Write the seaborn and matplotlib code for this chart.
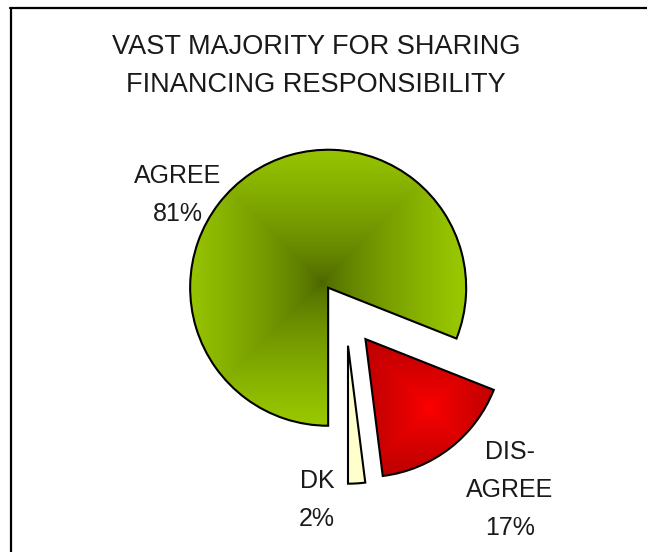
import numpy as np
import matplotlib
matplotlib.use("Agg")
import matplotlib.pyplot as plt
from matplotlib.lines import Line2D
import seaborn as sns

# data
categories = ["AGREE", "DIS-\nAGREE", "DK"]
shares = [81, 17, 2]
title = "VAST MAJORITY FOR SHARING\nFINANCING RESPONSIBILITY"

W, H = 647, 552

sns.set_style("white")
plt.rcParams['font.family'] = ['Liberation Sans', 'DejaVu Sans']

fig = plt.figure(figsize=(W / 100, H / 100), dpi=100)
ax = fig.add_axes([0, 0, 1, 1])

radius = 138
center = (346, H - 314)
explode = [0.23 * radius] * len(shares)
base_colors = ["#8fbf00", "#e00000", "#ffffcc"]

wedges, _ = ax.pie(shares, colors=base_colors, startangle=270, counterclock=False,
                   radius=radius, center=center, explode=explode, frame=True,
                   wedgeprops=dict(edgecolor="black", linewidth=1.5))


def _gradient_fill(wedge, c_in, c_out, focus=None, gamma=0.8):
    """fill a wedge with a square 'from center' gradient, clipped to it."""
    bb = wedge.get_path().get_extents()
    x0, y0, x1, y1 = bb.x0 - 2, bb.y0 - 2, bb.x1 + 2, bb.y1 + 2
    cx, cy = focus if focus is not None else ((x0 + x1) / 2, (y0 + y1) / 2)
    xs = np.linspace(x0, x1, 300)
    ys = np.linspace(y0, y1, 300)
    X, Y = np.meshgrid(xs, ys)
    half = max(x1 - x0, y1 - y0) / 2
    t = np.clip(np.maximum(np.abs(X - cx), np.abs(Y - cy)) / half, 0, 1) ** gamma
    ci = np.array(matplotlib.colors.to_rgb(c_in))
    co = np.array(matplotlib.colors.to_rgb(c_out))
    img = ci[None, None, :] * (1 - t[..., None]) + co[None, None, :] * t[..., None]
    im = ax.imshow(img, extent=(x0, x1, y0, y1), origin="lower",
                   interpolation="bilinear", zorder=1.5)
    im.set_clip_path(wedge)
    wedge.set_facecolor("none")
    wedge.set_zorder(3)


_gradient_fill(wedges[0], "#4a6400", "#99c800", focus=(322, H - 282), gamma=0.7)
_gradient_fill(wedges[1], "#ff0000", "#bb0000")

ax.set_xlim(0, W)
ax.set_ylim(0, H)
ax.set_aspect("equal")
ax.axis("off")

# slice labels
label_pos = [(178, 195), (510, 490), (317, 500)]
for cat, val, (lx, ly) in zip(categories, shares, label_pos):
    ax.text(lx, H - ly, f"{cat}\n{val}%", ha="center", va="center",
            fontsize=18, color="#1a1a1a", linespacing=1.72)

fig.text(316 / W, 1 - 66 / H, title, ha="center", va="center",
         fontsize=19.5, color="#1a1a1a", linespacing=1.64)

# chart area frame (top and left edges visible)
fig.add_artist(Line2D([10 / W, 1], [1 - 8 / H, 1 - 8 / H], color="black", linewidth=1.6))
fig.add_artist(Line2D([11 / W, 11 / W], [0, 1 - 8 / H], color="black", linewidth=1.6))

fig.savefig("out.png", dpi=100)
